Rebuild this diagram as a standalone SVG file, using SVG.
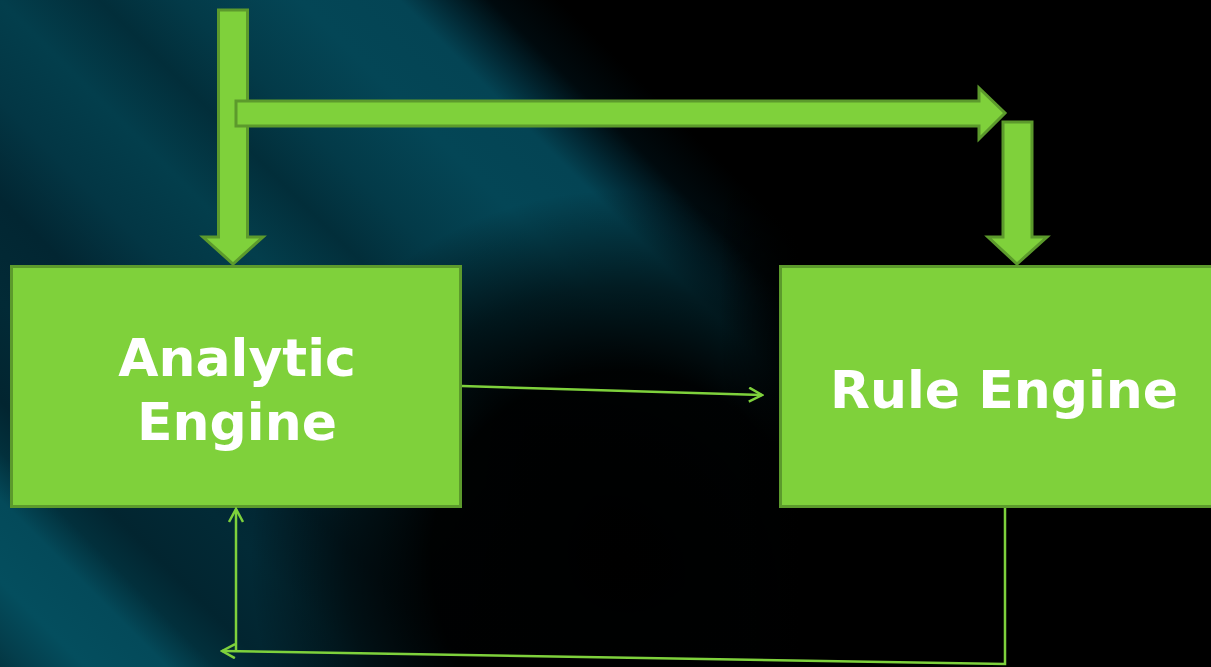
<svg xmlns="http://www.w3.org/2000/svg" width="1211" height="667" viewBox="0 0 1211 667">
<defs>
<linearGradient id="bands" gradientUnits="userSpaceOnUse" x1="-333.5" y1="333.5" x2="605.5" y2="-605.5">
<stop offset="0" stop-color="#033642"/>
<stop offset="0.014" stop-color="#043e4c"/>
<stop offset="0.046" stop-color="#044e5e"/>
<stop offset="0.089" stop-color="#044a5a"/>
<stop offset="0.115" stop-color="#02303c"/>
<stop offset="0.142" stop-color="#022530"/>
<stop offset="0.195" stop-color="#022a36"/>
<stop offset="0.249" stop-color="#022632"/>
<stop offset="0.302" stop-color="#033644"/>
<stop offset="0.355" stop-color="#033e4c"/>
<stop offset="0.408" stop-color="#022e3a"/>
<stop offset="0.451" stop-color="#033a48"/>
<stop offset="0.515" stop-color="#044656"/>
<stop offset="0.568" stop-color="#044454"/>
<stop offset="0.589" stop-color="#022a36"/>
<stop offset="0.616" stop-color="#000a0e"/>
<stop offset="0.653" stop-color="#000000"/>
</linearGradient>
<radialGradient id="dark" gradientUnits="userSpaceOnUse" cx="620" cy="560" r="420">
<stop offset="0" stop-color="#000" stop-opacity="1"/>
<stop offset="0.45" stop-color="#000" stop-opacity="0.97"/>
<stop offset="0.65" stop-color="#000" stop-opacity="0.6"/>
<stop offset="0.88" stop-color="#000" stop-opacity="0"/>
</radialGradient>
<linearGradient id="right" gradientUnits="userSpaceOnUse" x1="720" y1="0" x2="800" y2="0">
<stop offset="0" stop-color="#000" stop-opacity="0"/>
<stop offset="1" stop-color="#000" stop-opacity="1"/>
</linearGradient>
<marker id="openL" viewBox="0 0 16 16" refX="14" refY="8" markerWidth="16" markerHeight="16" markerUnits="userSpaceOnUse" orient="auto">
<path d="M1,1 L14,8 L1,15" fill="none" stroke="#7ed13c" stroke-width="2.5"/>
</marker>
<style>
.box{fill:#7fd13b;stroke:#5c9a2c;stroke-width:3}
.block{fill:#7fd13b;stroke:#5c9a2c;stroke-width:3;stroke-linejoin:miter}
.lbl{font-family:"DejaVu Sans",Verdana,sans-serif;font-weight:bold;font-size:52px;fill:#ffffff;text-anchor:middle}
.conn{fill:none;stroke:#7ed13c;stroke-width:2.5}
</style>
</defs>
<rect x="0" y="0" width="1211" height="667" fill="#000"/>
<rect x="0" y="0" width="1211" height="667" fill="url(#bands)"/>
<rect x="0" y="0" width="1211" height="667" fill="url(#dark)"/>
<rect x="0" y="0" width="1211" height="667" fill="url(#right)"/>

<g id="arrow-in">
<polygon class="block" points="218.5,10 247.5,10 247.5,237 263,237 233,264 203,237 218.5,237"/>
</g>
<g id="arrow-across">
<polygon class="block" points="236,101 979,101 979,88 1005,113 979,139 979,126 236,126"/>
</g>
<g id="arrow-down">
<polygon class="block" points="1003,122 1032,122 1032,237 1047,237 1017,264 988,237 1003,237"/>
</g>

<g id="analytic-engine">
<rect class="box" x="11.5" y="266.5" width="449" height="240"/>
<text class="lbl" x="237" y="376">Analytic</text>
<text class="lbl" x="237" y="440">Engine</text>
</g>
<g id="rule-engine">
<rect class="box" x="780.5" y="266.5" width="440" height="240"/>
<text class="lbl" x="1004" y="408">Rule Engine</text>
</g>

<g id="connectors">
<line class="conn" x1="462" y1="386" x2="762" y2="395" marker-end="url(#openL)"/>
<polyline class="conn" points="1005,508 1005,664 222,651" marker-end="url(#openL)"/>
<line class="conn" x1="236" y1="650" x2="236" y2="509" marker-end="url(#openL)"/>
</g>
</svg>
